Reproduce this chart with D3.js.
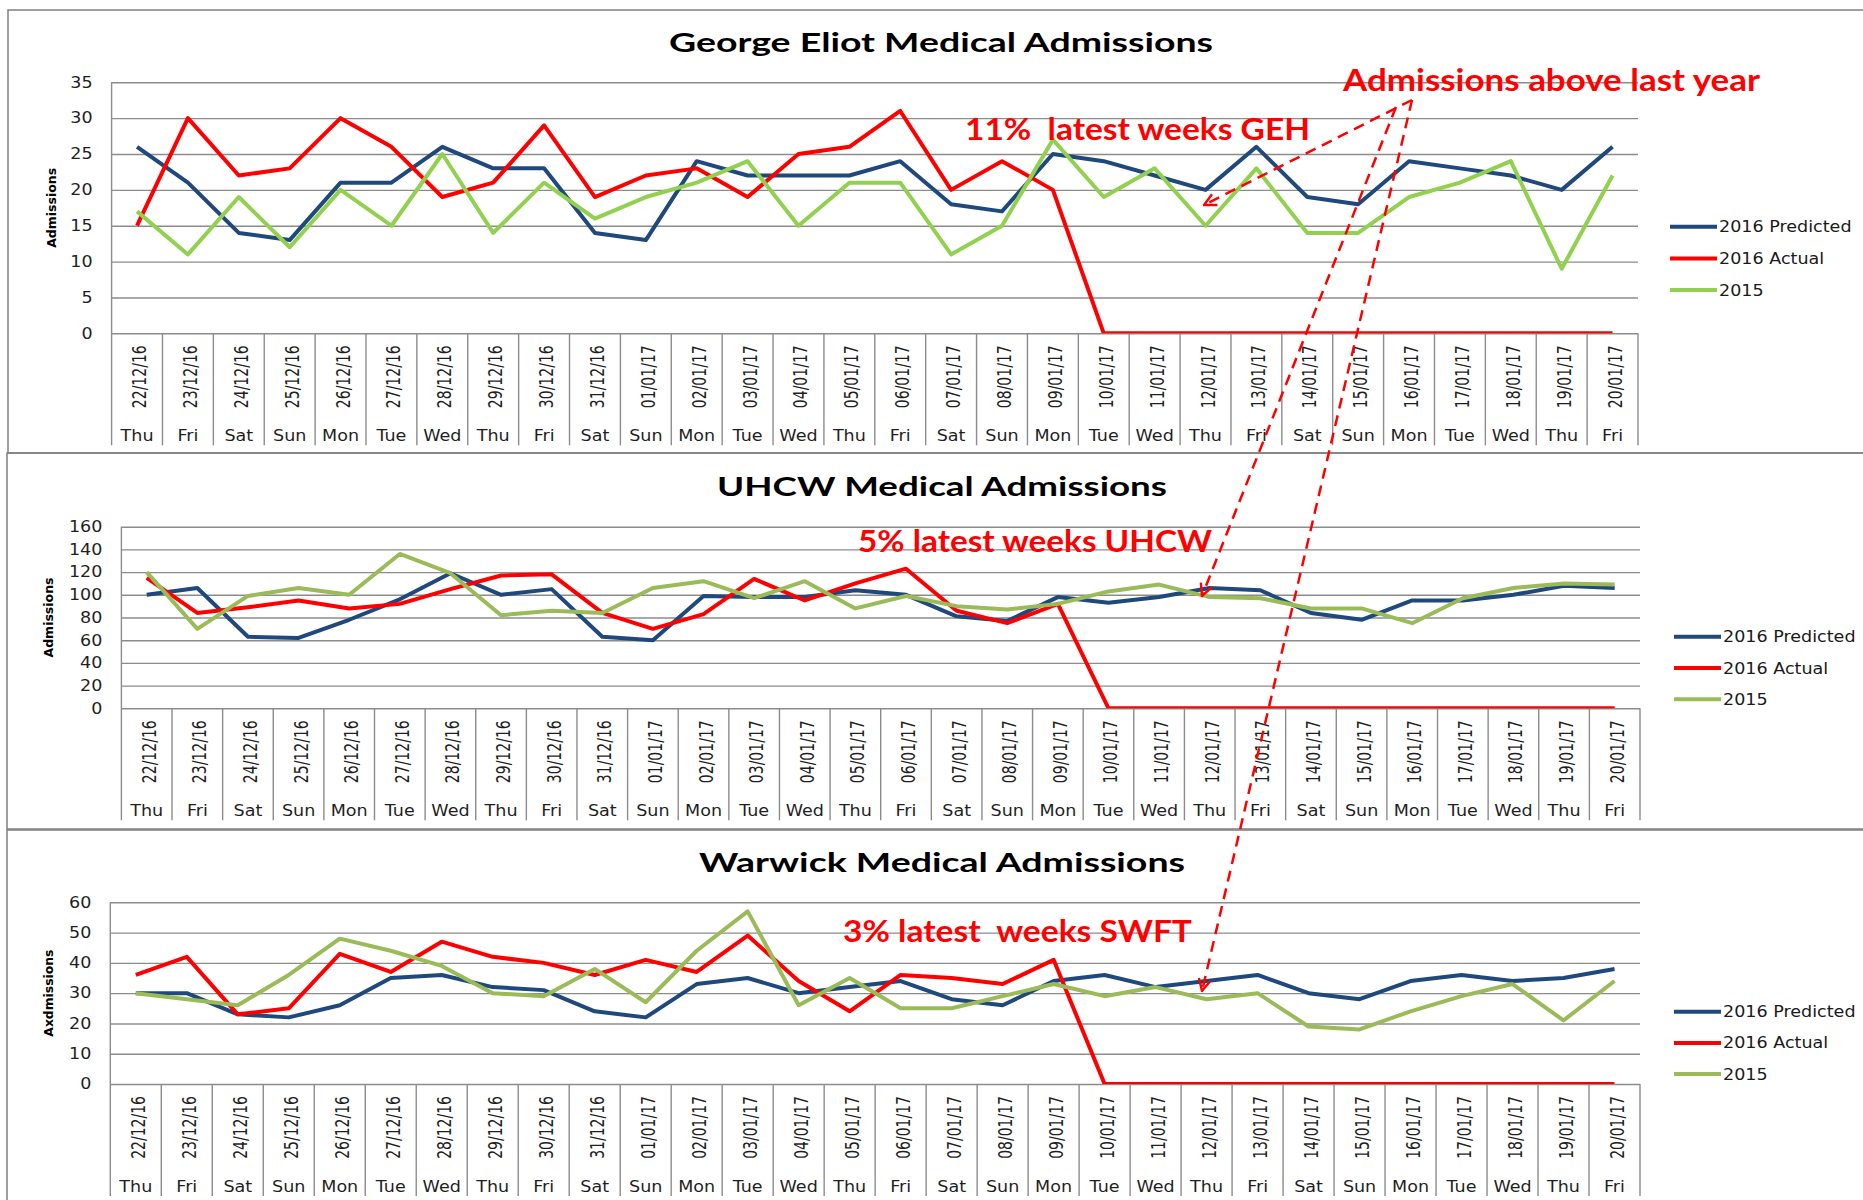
<!DOCTYPE html>
<html>
<head>
<meta charset="utf-8">
<script src="https://cdn.jsdelivr.net/npm/d3@7"></script>
<style>
  body { margin: 0; background: #fff; }
  svg { display: block; }
</style>
</head>
<body>
<svg id="chart" width="1863" height="1200"></svg>
<script>
// Categories
const dates = ["22/12/16", "23/12/16", "24/12/16", "25/12/16", "26/12/16", "27/12/16", "28/12/16",
    "29/12/16", "30/12/16", "31/12/16", "01/01/17", "02/01/17", "03/01/17", "04/01/17", "05/01/17",
    "06/01/17", "07/01/17", "08/01/17", "09/01/17", "10/01/17", "11/01/17", "12/01/17", "13/01/17",
    "14/01/17", "15/01/17", "16/01/17", "17/01/17", "18/01/17", "19/01/17", "20/01/17"];
const days = ["Thu", "Fri", "Sat", "Sun", "Mon", "Tue", "Wed", "Thu", "Fri", "Sat", "Sun", "Mon", "Tue",
    "Wed", "Thu", "Fri", "Sat", "Sun", "Mon", "Tue", "Wed", "Thu", "Fri", "Sat", "Sun", "Mon", "Tue",
    "Wed", "Thu", "Fri"];
const seriesNames = ["2016 Predicted", "2016 Actual", "2015"];

// George Eliot
const geTicks = [0, 5, 10, 15, 20, 25, 30, 35];
const gePredicted = [26, 21, 14, 13, 21, 21, 26, 23, 23, 14, 13, 24, 22, 22, 22, 24, 18, 17, 25, 24, 22, 20, 26, 19, 18, 24, 23, 22, 20, 26];
const geActual = [15, 30, 22, 23, 30, 26, 19, 21, 29, 19, 22, 23, 19, 25, 26, 31, 20, 24, 20, 0, 0, 0, 0, 0, 0, 0, 0, 0, 0, 0];
const ge2015 = [17, 11, 19, 12, 20, 15, 25, 14, 21, 16, 19, 21, 24, 15, 21, 21, 11, 15, 27, 19, 23, 15, 23, 14, 14, 19, 21, 24, 9, 22];

// UHCW
const uhTicks = [0, 20, 40, 60, 80, 100, 120, 140, 160];
const uhPredicted = [100, 106, 63, 62, 78, 96, 119, 100, 105, 63, 60, 99, 98, 98, 104, 100, 81, 77, 98, 93, 98, 106, 104, 84, 78, 95, 95, 100, 108, 106];
const uhActual = [115, 84, 89, 95, 88, 92, 105, 117, 118, 84, 70, 83, 114, 95, 110, 123, 86, 75, 92, 0, 0, 0, 0, 0, 0, 0, 0, 0, 0, 0];
const uh2015 = [120, 70, 99, 106, 100, 136, 119, 82, 86, 84, 106, 112, 97, 112, 88, 99, 90, 87, 92, 103, 109, 98, 97, 88, 88, 75, 97, 106, 110, 109];

// Warwick
const whTicks = [0, 10, 20, 30, 40, 50, 60];
const whPredicted = [30, 30, 23, 22, 26, 35, 36, 32, 31, 24, 22, 33, 35, 30, 32, 34, 28, 26, 34, 36, 32, 34, 36, 30, 28, 34, 36, 34, 35, 38];
const whActual = [36, 42, 23, 25, 43, 37, 47, 42, 40, 36, 41, 37, 49, 34, 24, 36, 35, 33, 41, 0, 0, 0, 0, 0, 0, 0, 0, 0, 0, 0];
const wh2015 = [30, 28, 26, 36, 48, 44, 39, 30, 29, 38, 27, 44, 57, 26, 35, 25, 25, 29, 33, 29, 32, 28, 30, 19, 18, 24, 29, 33, 21, 34];

const SX = 1.17; // the source picture is stretched sideways
const tickFont = "'DejaVu Sans', Verdana, sans-serif";
const boldFont = "Lato, 'Open Sans', sans-serif";
const BLUE = "#1F497D", RED = "#FF0000";

const panels = [
    {box: [8, 10, 453], left: 111.6, right: 1638, top: 82.3, zero: 333.3, ticks: geTicks,
     series: [gePredicted, geActual, ge2015], green: "#92D050",
     title: "George Eliot Medical Admissions", titleX: 669, titleBase: 51.7, titleW: 544,
     yTitle: "Admissions", yTitleX: 56, yTitleLen: 80,
     legX: 1670, legY: 226.7, legGap: 31.7},
    {box: [7, 453, 829], left: 121.4, right: 1640, top: 526.7, zero: 708.3, ticks: uhTicks,
     series: [uhPredicted, uhActual, uh2015], green: "#9BBB59",
     title: "UHCW Medical Admissions", titleX: 717, titleBase: 495.7, titleW: 450,
     yTitle: "Admissions", yTitleX: 53, yTitleLen: 80,
     legX: 1674, legY: 636.7, legGap: 31.3},
    {box: [7, 830, 1210], left: 110.3, right: 1640, top: 902.3, zero: 1084, ticks: whTicks,
     series: [whPredicted, whActual, wh2015], green: "#9BBB59",
     title: "Warwick Medical Admissions", titleX: 699, titleBase: 871.7, titleW: 486,
     yTitle: "Axdmissions", yTitleX: 53, yTitleLen: 87,
     legX: 1674, legY: 1011.7, legGap: 31.2}
];

const svg = d3.select("#chart");
const defs = svg.append("defs");

defs.append("marker")
    .attr("id", "arrow")
    .attr("viewBox", "0 0 10 10")
    .attr("refX", 9)
    .attr("refY", 5)
    .attr("markerWidth", 15)
    .attr("markerHeight", 15)
    .attr("markerUnits", "userSpaceOnUse")
    .attr("orient", "auto")
    .append("path")
    .attr("d", "M1,1 L9,5 L1,9")
    .attr("fill", "none")
    .attr("stroke", RED)
    .attr("stroke-width", 1.6);

function drawPanel(p, i) {
    const g = svg.append("g");
    const catBottom = p.zero + 112;

    // Panel frame
    g.append("rect")
        .attr("x", p.box[0])
        .attr("y", p.box[1])
        .attr("width", 1900)
        .attr("height", p.box[2] - p.box[1])
        .attr("fill", "none")
        .attr("stroke", "#808080")
        .attr("stroke-width", 1.5);

    const x = d3.scaleBand().domain(dates).range([p.left, p.right]);
    const y = d3.scaleLinear().domain([0, d3.max(p.ticks)]).range([p.zero, p.top]);
    const cx = d => x(d) + x.bandwidth() / 2;

    // Gridlines and y labels
    const yAxis = g.append("g")
        .attr("transform", `translate(${p.left},0)`)
        .call(d3.axisLeft(y).tickValues(p.ticks).tickSize(-(p.right - p.left)).tickPadding(0));
    yAxis.select(".domain").remove();
    yAxis.selectAll(".tick line")
        .attr("stroke", "#8c8c8c")
        .attr("stroke-width", 1.4);
    yAxis.selectAll(".tick text")
        .attr("x", 0)
        .attr("transform", `translate(-19,0) scale(${SX},1)`)
        .attr("fill", "#1f1f1f")
        .style("font-family", tickFont)
        .style("font-size", "15px");

    // Left axis line, category separators
    g.append("line")
        .attr("x1", p.left).attr("x2", p.left)
        .attr("y1", p.top).attr("y2", catBottom)
        .attr("stroke", "#8c8c8c").attr("stroke-width", 1.4);
    g.selectAll(".sep")
        .data(dates.slice(1).concat([null]))
        .join("line")
        .attr("x1", d => d ? x(d) : x.range()[1])
        .attr("x2", d => d ? x(d) : x.range()[1])
        .attr("y1", p.zero)
        .attr("y2", catBottom)
        .attr("stroke", "#8c8c8c")
        .attr("stroke-width", 1.4);

    // Date labels (rotated) and day names
    g.selectAll(".date")
        .data(dates)
        .join("text")
        .attr("transform", d => `translate(${cx(d) + 9},${p.zero + 12}) scale(1.35,1) rotate(-90)`)
        .attr("text-anchor", "end")
        .attr("fill", "#1f1f1f")
        .style("font-family", tickFont)
        .style("font-size", "14px")
        .text(d => d);
    g.selectAll(".day")
        .data(days)
        .join("text")
        .attr("transform", (d, j) => `translate(${cx(dates[j])},${p.zero + 107.5}) scale(${SX},1)`)
        .attr("text-anchor", "middle")
        .attr("fill", "#1f1f1f")
        .style("font-family", tickFont)
        .style("font-size", "15px")
        .text(d => d);

    // Y axis title
    g.append("text")
        .attr("transform", `translate(${p.yTitleX},${(p.top + p.zero) / 2 + p.yTitleLen / 2}) rotate(-90)`)
        .attr("textLength", p.yTitleLen)
        .attr("lengthAdjust", "spacingAndGlyphs")
        .style("font-family", "'DejaVu Sans', sans-serif")
        .style("font-weight", "bold")
        .style("font-size", "13px")
        .text(p.yTitle);

    // Chart title
    g.append("text")
        .attr("x", p.titleX)
        .attr("y", p.titleBase)
        .attr("textLength", p.titleW)
        .attr("lengthAdjust", "spacingAndGlyphs")
        .style("font-family", boldFont)
        .style("font-weight", "bold")
        .style("font-size", "27px")
        .text(p.title);

    // Series lines
    const clipId = "clip" + i;
    defs.append("clipPath").attr("id", clipId)
        .append("rect")
        .attr("x", p.left - 5)
        .attr("y", p.top - 10)
        .attr("width", p.right - p.left + 10)
        .attr("height", p.zero - p.top + 10);

    const colors = [BLUE, RED, p.green];
    const line = d3.line().x((v, j) => cx(dates[j])).y(v => y(v));
    g.append("g")
        .attr("clip-path", `url(#${clipId})`)
        .selectAll("path")
        .data(p.series)
        .join("path")
        .attr("d", line)
        .attr("fill", "none")
        .attr("stroke", (d, k) => colors[k])
        .attr("stroke-width", 4)
        .attr("stroke-linejoin", "round");

    // Legend
    const leg = g.selectAll(".leg")
        .data(seriesNames)
        .join("g")
        .attr("transform", (d, k) => `translate(${p.legX},${p.legY + k * p.legGap})`);
    leg.append("line")
        .attr("x1", 0).attr("x2", 47)
        .attr("stroke", (d, k) => colors[k])
        .attr("stroke-width", 4);
    leg.append("text")
        .attr("transform", `translate(49,5.5) scale(${SX},1)`)
        .attr("fill", "#1a1a1a")
        .style("font-family", tickFont)
        .style("font-size", "15px")
        .text(d => d);
}

panels.forEach(drawPanel);

// Red annotations
const notes = [
    {text: "Admissions above last year", x: 1343, y: 90.7, w: 417, size: 31},
    {text: "11%  latest weeks GEH", x: 965, y: 140, w: 345, size: 30},
    {text: "5% latest weeks UHCW", x: 858, y: 551.7, w: 354, size: 30},
    {text: "3% latest  weeks SWFT", x: 843, y: 941.7, w: 349, size: 30}
];
svg.selectAll(".note")
    .data(notes)
    .join("text")
    .attr("x", d => d.x)
    .attr("y", d => d.y)
    .attr("textLength", d => d.w)
    .attr("lengthAdjust", "spacingAndGlyphs")
    .attr("fill", RED)
    .style("white-space", "pre")
    .style("font-family", boldFont)
    .style("font-weight", "bold")
    .style("font-size", d => d.size + "px")
    .text(d => d.text);

// Dashed pointers from the headline to each chart
const pointers = [
    {x1: 1412, y1: 100, x2: 1204, y2: 205},
    {x1: 1396, y1: 107, x2: 1202, y2: 596},
    {x1: 1412, y1: 100, x2: 1202, y2: 991}
];
svg.selectAll(".ptr")
    .data(pointers)
    .join("line")
    .attr("x1", d => d.x1).attr("y1", d => d.y1)
    .attr("x2", d => d.x2).attr("y2", d => d.y2)
    .attr("stroke", RED)
    .attr("stroke-width", 2.5)
    .attr("stroke-dasharray", "11,7")
    .attr("marker-end", "url(#arrow)");
</script>
</body>
</html>
